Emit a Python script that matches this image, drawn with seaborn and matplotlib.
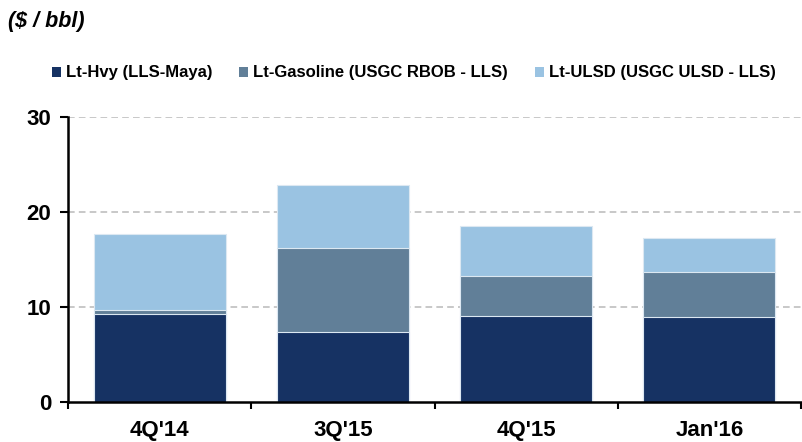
import matplotlib
matplotlib.use("Agg")
import matplotlib.pyplot as plt
from matplotlib.patches import Patch
from matplotlib.ticker import FixedLocator
import numpy as np
import pandas as pd
import seaborn as sns

# Crack spreads by period ($/bbl)
periods = ["4Q'14", "3Q'15", "4Q'15", "Jan'16"]
lt_hvy = [9.3, 7.4, 9.1, 8.9]
lt_gasoline = [0.4, 8.85, 4.2, 4.8]
lt_ulsd = [8.0, 6.55, 5.25, 3.6]

series_names = ["Lt-Hvy (LLS-Maya)", "Lt-Gasoline (USGC RBOB - LLS)", "Lt-ULSD (USGC ULSD - LLS)"]
colors = ["#163263", "#617f98", "#9ac3e2"]

sns.set_theme(style="white")
plt.rcParams["font.family"] = ["Liberation Sans", "DejaVu Sans"]
plt.rcParams["text.color"] = "black"
plt.rcParams["xtick.color"] = "black"
plt.rcParams["ytick.color"] = "black"

df = pd.DataFrame({
    "period": periods,
    "hvy": lt_hvy,
    "gas": lt_gasoline,
    "ulsd": lt_ulsd,
})
df["c1"] = df["hvy"]
df["c2"] = df["hvy"] + df["gas"]
df["c3"] = df["c2"] + df["ulsd"]

fig = plt.figure(figsize=(8.02, 4.42), dpi=100)
ax = fig.add_axes([68 / 802, 40 / 442, 733 / 802, 285 / 442])

# stacked segments drawn as overlapping cumulative bars, top layer first
for col, color in zip(["c3", "c2", "c1"], colors[::-1]):
    sns.barplot(data=df, x="period", y=col, color=color, width=0.72,
                saturation=1, edgecolor="#dce8f2", linewidth=0.8, ax=ax, zorder=3)

ax.set_xlim(-0.5, 3.5)
ax.set_ylim(0, 30)
ax.set_yticks([0, 10, 20, 30])
ax.set_xlabel("")
ax.set_ylabel("")

for y in [10, 20, 30]:
    ax.axhline(y, color="#bfbfbf", linestyle=(0, (4, 2.5)), linewidth=1.2, zorder=1)

for side in ["top", "right"]:
    ax.spines[side].set_visible(False)
for side in ["left", "bottom"]:
    ax.spines[side].set_color("black")
    ax.spines[side].set_linewidth(1.8)
    ax.spines[side].set_zorder(5)

ax.xaxis.set_minor_locator(FixedLocator([-0.5, 0.5, 1.5, 2.5, 3.5]))
ax.tick_params(axis="x", which="major", length=0, pad=13, labelsize=16, labelcolor="black")
ax.tick_params(axis="x", which="minor", length=5, width=1.5, color="black", direction="out", bottom=True)
ax.tick_params(axis="y", which="major", length=6, width=1.5, color="black", direction="out", left=True,
               labelsize=16, pad=6, labelcolor="black")
for lbl in ax.get_xticklabels() + ax.get_yticklabels():
    lbl.set_fontweight("bold")

fig.text(8 / 802, 1 - 22 / 442, "($ / bbl)", fontsize=15.5, fontweight="bold",
         fontstyle="italic", va="center", ha="left", color="black")

handles = [Patch(facecolor=c, edgecolor="none") for c in colors]
leg = fig.legend(handles, series_names, loc="center left", bbox_to_anchor=(52 / 802, 1 - 73 / 442),
                 ncol=3, frameon=False, handlelength=0.55, handleheight=0.55, handletextpad=0.3,
                 columnspacing=1.6, borderpad=0, borderaxespad=0,
                 prop={"weight": "bold", "size": 12})
for t in leg.get_texts():
    t.set_color("black")

fig.savefig("out.png", dpi=100)
